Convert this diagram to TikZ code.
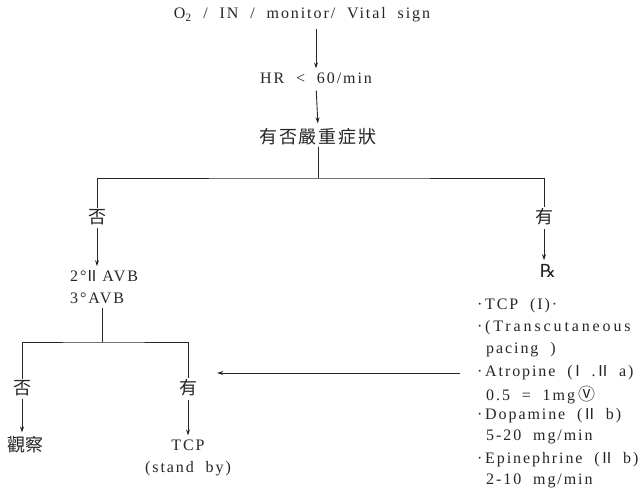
\documentclass[tikz,border=0pt]{standalone}
\usepackage{fontspec}
\setmainfont{Liberation Serif}[LetterSpace=12,WordSpace=2]
\newfontfamily\cjk{Noto Sans CJK TC}
\newfontfamily\symf{DejaVu Sans}
\newfontfamily\rom{Liberation Sans}
\usetikzlibrary{arrows.meta}
\definecolor{ink}{HTML}{262626}
\newcommand\bl{\makebox[8pt][l]{·}}
\begin{document}
\begin{tikzpicture}[x=1pt,y=-1pt,
  txt/.style={font=\fontsize{16}{20}\selectfont, text=ink, inner sep=1pt},
  ch/.style={font=\cjk\fontsize{18}{20}\selectfont, text=ink, inner sep=1pt},
  arr/.style={draw=ink, line width=0.9pt, -{Stealth[length=6pt,width=4pt]}},
  ln/.style={draw=ink, line width=0.9pt}]
\useasboundingbox[fill=white] (0,0) rectangle (640,501);
% top chain
\node[txt] (top) at (302,15) {O\textsubscript{2} / IN / monitor/ Vital sign};
\node[txt] (hr) at (316,78) {HR < 60/min};
\node[ch] (q) at (318,137) {有\kern2pt否\kern2pt嚴\kern2pt重\kern2pt症\kern2pt狀};
\draw[arr, shorten <=6pt, shorten >=3pt] (top.south -| hr) -- (hr.north);
\draw[arr, shorten <=6pt, shorten >=4pt] (hr.south) -- (q.north);
% first branch
\coordinate (j1) at (318,178);
\node[ch] (no1) at (97,217) {否};
\node[ch] (yes1) at (544,217) {有};
\draw[ln] (q) -- (j1);
\draw[ln] (no1.north) |- (j1) -| (yes1.north);
% left side
\node[txt, anchor=west] (avb1) at (69,276) {2°\kern1pt{\rom II}\hspace{6pt}AVB};
\node[txt, anchor=west] (avb2) at (69,298) {3°AVB};
\draw[arr, shorten <=2pt, shorten >=3pt] (no1) -- (no1 |- avb1.north);
\coordinate (j2) at (102,342);
\node[ch] (no2) at (22,388) {否};
\node[ch] (yes2) at (188,388) {有};
\draw[ln, shorten <=3pt] (avb2.south -| j2) -- (j2);
\draw[ln] (no2.north) |- (j2) -| (yes2.north);
\node[ch] (obs) at (25,445) {觀察};
\node[txt] (tcp1) at (188,445) {TCP};
\node[txt] (tcp2) at (188,469) {(stand by)};
\draw[arr, shorten <=2pt, shorten >=3pt] (no2) -- (no2 |- obs.north);
\draw[arr, shorten <=2pt, shorten >=3pt] (yes2) -- (tcp1);
% right side
\node[txt] (rx) at (548,271) {\symf\fontsize{18}{20}\selectfont ℞};
\draw[arr, shorten <=2pt, shorten >=3pt] (yes1) -- (yes1 |- rx.north);
\node[txt, anchor=west] (L1) at (476,306) {\bl TCP (I)·};
\node[txt, anchor=west] (L2) at (476,328) {\bl \addfontfeature{LetterSpace=18}(Transcutaneous};
\node[txt, anchor=west] (L3) at (485,350) {pacing )};
\node[txt, anchor=west] (L4) at (476,373) {\bl Atropine (\,{\rom I} .\,{\rom II} a)};
\node[txt, anchor=west] (L5) at (485,395) {0.5 = 1mg\hspace{3pt}{\cjk\fontsize{17}{17}\selectfont Ⓥ}};
\node[txt, anchor=west] (L6) at (476,416) {\bl Dopamine (\,{\rom II} b)};
\node[txt, anchor=west] (L7) at (485,437) {5-20 mg/min};
\node[txt, anchor=west] (L8) at (476,460) {\bl Epinephrine (\,{\rom II} b)};
\node[txt, anchor=west] (L9) at (485,481) {2-10 mg/min};
\draw[arr, shorten <=16pt, shorten >=19pt] (L4.west) -- (L4.west -| yes2.east);
\end{tikzpicture}
\end{document}
